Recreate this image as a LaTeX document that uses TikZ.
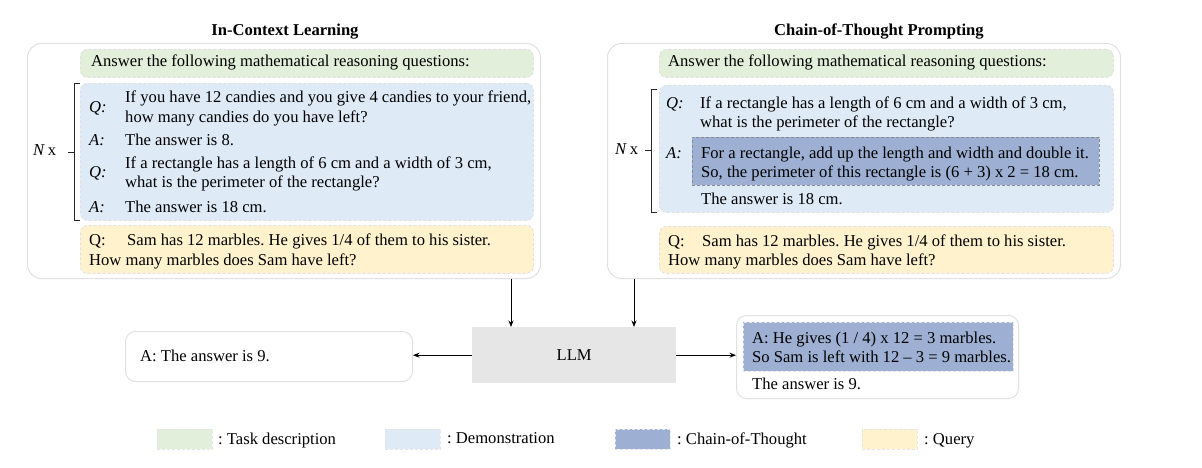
\documentclass[tikz,border=0pt]{standalone}
\usepackage{fontspec}
\setmainfont{Liberation Serif}
\usetikzlibrary{arrows.meta}
\frenchspacing
\definecolor{taskc}{RGB}{226,239,218}
\definecolor{democ}{RGB}{222,234,246}
\definecolor{cotc}{RGB}{157,176,211}
\definecolor{queryc}{RGB}{255,242,204}
\definecolor{llmc}{RGB}{230,230,230}
\definecolor{framec}{RGB}{224,224,224}
\tikzset{
  panel/.style={anchor=north west, inner sep=0pt, draw=framec, line width=1pt, rounded corners=14pt},
  ansbox/.style={anchor=north west, inner sep=0pt, draw=framec, line width=1pt, rounded corners=10pt},
  cbox/.style={anchor=north west, inner sep=0pt, draw=black!12, dashed, dash pattern=on 3pt off 2pt, line width=0.8pt, rounded corners=7pt},
  cotbox/.style={anchor=north west, inner sep=0pt, fill=cotc, draw=black!45, dashed, dash pattern=on 3pt off 2pt, line width=0.8pt},
  swatch/.style={anchor=north west, inner sep=0pt, draw=black!10, dashed, dash pattern=on 3pt off 2pt, line width=0.6pt, minimum width=55pt, minimum height=20pt},
  txt/.style={anchor=base west, inner sep=0pt},
  ttl/.style={anchor=base, inner sep=0pt, font=\fontsize{16.6}{20}\selectfont\bfseries},
  brk/.style={line width=0.9pt, black!85},
  arr/.style={line width=1pt, -{Stealth[length=6.5pt,width=5pt]}},
}
\begin{document}
\begin{tikzpicture}[x=1pt,y=-1pt, font=\fontsize{16.6}{20}\selectfont]
\useasboundingbox (0,0) rectangle (1202,468);

% ---------- Left panel ----------
\node[ttl] (t1) at (285,36) {In-Context Learning};
\node[panel, minimum width=513pt, minimum height=235pt] (Lp) at (27,43) {};
\node[cbox, fill=taskc, minimum width=453pt, minimum height=28pt] (Lg) at (80,49) {};
\node[cbox, fill=democ, minimum width=453pt, minimum height=137pt] (Lb) at (80,83) {};
\node[cbox, fill=queryc, minimum width=453pt, minimum height=48pt] (Ly) at (80,225) {};

\node[txt] (Lgt) at (91,67) {Answer the following mathematical reasoning questions:};
\node[txt] (Lq1) at (89,113) {\textit{Q:}};
\node[txt] (Lq1a) at (125,103) {If you have 12 candies and you give 4 candies to your friend,};
\node[txt] (Lq1b) at (125,123) {how many candies do you have left?};
\node[txt] (La1) at (89,146) {\textit{A:}};
\node[txt] (La1a) at (125,146) {The answer is 8.};
\node[txt] (Lq2) at (89,177) {\textit{Q:}};
\node[txt] (Lq2a) at (125,168) {If a rectangle has a length of 6 cm and a width of 3 cm,};
\node[txt] (Lq2b) at (125,187) {what is the perimeter of the rectangle?};
\node[txt] (La2) at (89,212) {\textit{A:}};
\node[txt] (La2a) at (125,212) {The answer is 18 cm.};
\node[txt] (Lyq) at (89,245) {Q:};
\node[txt] (Lya) at (127,245) {Sam has 12 marbles. He gives 1/4 of them to his sister.};
\node[txt] (Lyb) at (89,265) {How many marbles does Sam have left?};

\node[txt] (LN) at (33,156) {\textit{N}\,x};
\draw[brk] (80,83) -- (74,83) -- (74,220) -- (80,220);
\draw[brk] (74,152) -- (68,152);

% ---------- Right panel ----------
\node[ttl] (t2) at (879,36) {Chain-of-Thought Prompting};
\node[panel, minimum width=513pt, minimum height=235pt] (Rp) at (607,43) {};
\node[cbox, fill=taskc, minimum width=454pt, minimum height=28pt] (Rg) at (659,49) {};
\node[cbox, fill=democ, minimum width=454pt, minimum height=127pt] (Rb) at (659,85) {};
\node[cotbox, minimum width=407pt, minimum height=48pt] (Rc) at (692,137) {};
\node[cbox, fill=queryc, minimum width=454pt, minimum height=47pt] (Ry) at (659,226) {};

\node[txt] (Rgt) at (668,67) {Answer the following mathematical reasoning questions:};
\node[txt] (Rq) at (666,109) {\textit{Q:}};
\node[txt] (Rqa) at (700,109) {If a rectangle has a length of 6 cm and a width of 3 cm,};
\node[txt] (Rqb) at (700,128) {what is the perimeter of the rectangle?};
\node[txt] (Ra) at (666,158) {\textit{A:}};
\node[txt] (Rca) at (701,158) {For a rectangle, add up the length and width and double it.};
\node[txt] (Rcb) at (701,177) {So, the perimeter of this rectangle is (6 + 3) x 2 = 18 cm.};
\node[txt] (Rans) at (701,204) {The answer is 18 cm.};
\node[txt] (Ryq) at (668,246) {Q:};
\node[txt] (Rya) at (702,246) {Sam has 12 marbles. He gives 1/4 of them to his sister.};
\node[txt] (Ryb) at (668,265) {How many marbles does Sam have left?};

\node[txt] (RN) at (615,155) {\textit{N}\,x};
\draw[brk] (657,89) -- (651,89) -- (651,212) -- (657,212);
\draw[brk] (651,150) -- (645,150);

% ---------- Bottom ----------
\node[anchor=north west, inner sep=0pt, fill=llmc, minimum width=204pt, minimum height=56pt] (LLM) at (472,327) {};
\node (LLMt) at (LLM.center) {LLM};
\node[ansbox, minimum width=287pt, minimum height=50pt] (Lans) at (125,331) {};
\node[txt] (Lanst) at (140,361) {A: The answer is 9.};
\node[ansbox, minimum width=282pt, minimum height=83pt] (Rans2) at (736,315) {};
\node[anchor=north west, inner sep=0pt, fill=cotc, draw=black!10, dashed, dash pattern=on 3pt off 2pt, line width=0.6pt, minimum width=270pt, minimum height=49pt] (Rcot) at (743,322) {};
\node[txt] (Rcot1) at (752,343) {A: He gives (1 / 4) x 12 = 3 marbles.};
\node[txt] (Rcot2) at (752,362) {So Sam is left with 12 – 3 = 9 marbles.};
\node[txt] (Rcot3) at (752,389) {The answer is 9.};

\draw[arr] ([xshift=39pt]LLM.north west |- Lp.south) -- ([xshift=39pt]LLM.north west);
\draw[arr] ([xshift=162pt]LLM.north west |- Rp.south) -- ([xshift=162pt]LLM.north west);
\draw[arr] (LLM.west) -- (LLM.west -| Lans.east);
\draw[arr] (LLM.east) -- (LLM.east -| Rans2.west);

% ---------- Legend ----------
\node[swatch, fill=taskc] (s1) at (157,429) {};
\node[txt] (l1) at (218,444) {: Task description};
\node[swatch, fill=democ] (s2) at (385,429) {};
\node[txt] (l2) at (447,443) {: Demonstration};
\node[swatch, fill=cotc] (s3) at (615,429) {};
\node[txt] (l3) at (677,444) {: Chain-of-Thought};
\node[swatch, fill=queryc] (s4) at (862,429) {};
\node[txt] (l4) at (924,444) {: Query};
\end{tikzpicture}
\end{document}
